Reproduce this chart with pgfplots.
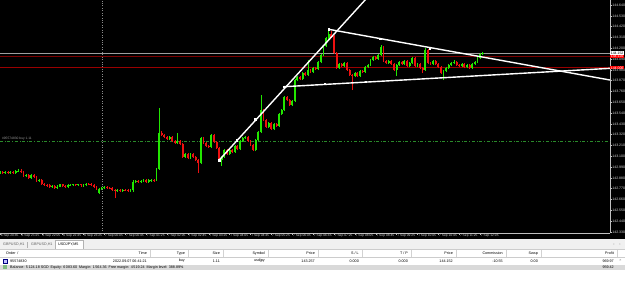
\documentclass[border=0pt]{standalone}
\usepackage{pgfplots}
\pgfplotsset{compat=1.18}
\usepackage{pgfplotstable}
\usepackage{fontspec}
\setmainfont{Liberation Sans}
\definecolor{bull}{HTML}{22E600}
\definecolor{bear}{HTML}{EE1010}
\definecolor{dredA}{HTML}{7A0000}
\definecolor{dredB}{HTML}{9A0000}
\definecolor{ordgreen}{HTML}{2A8A2A}
\newcommand\pf{\fontsize{3.7}{4}\selectfont}
\newcommand\yf{\fontsize{3.5}{4}\selectfont}
\newcommand\xf{\fontsize{3.3}{4}\selectfont}
\pgfplotstableread{
x o h l c
0 142.929 142.954 142.919 142.939
1 142.939 142.949 142.914 142.929
2 142.929 142.949 142.919 142.939
3 142.939 142.949 142.919 142.929
4 142.929 142.954 142.919 142.944
5 142.939 142.949 142.919 142.929
6 142.929 142.960 142.919 142.949
7 142.949 142.965 142.939 142.954
8 142.954 142.965 142.929 142.939
9 142.939 142.949 142.888 142.898
10 142.898 142.919 142.888 142.909
11 142.909 142.919 142.868 142.878
12 142.878 142.919 142.868 142.909
13 142.909 142.919 142.878 142.888
14 142.888 142.898 142.837 142.848
15 142.848 142.868 142.837 142.858
16 142.858 142.868 142.807 142.817
17 142.817 142.827 142.797 142.807
18 142.807 142.817 142.791 142.802
19 142.802 142.812 142.781 142.791
20 142.791 142.807 142.781 142.797
21 142.797 142.807 142.771 142.781
22 142.781 142.802 142.771 142.791
23 142.791 142.822 142.786 142.812
24 142.812 142.822 142.786 142.797
25 142.797 142.807 142.776 142.786
26 142.786 142.812 142.776 142.802
27 142.802 142.817 142.797 142.807
28 142.807 142.822 142.797 142.812
29 142.812 142.822 142.797 142.807
30 142.807 142.822 142.797 142.812
31 142.812 142.822 142.791 142.802
32 142.802 142.817 142.791 142.807
33 142.807 142.832 142.797 142.822
34 142.822 142.832 142.807 142.817
35 142.817 142.827 142.797 142.807
36 142.807 142.817 142.781 142.791
37 142.786 142.797 142.756 142.766
38 142.730 142.776 142.715 142.771
39 142.771 142.786 142.761 142.776
40 142.776 142.797 142.766 142.786
41 142.786 142.797 142.771 142.781
42 142.781 142.791 142.766 142.776
43 142.776 142.786 142.746 142.756
44 142.756 142.766 142.674 142.746
45 142.746 142.766 142.735 142.756
46 142.756 142.766 142.740 142.751
47 142.751 142.771 142.740 142.761
48 142.761 142.771 142.746 142.756
49 142.756 142.766 142.740 142.751
50 142.751 142.766 142.740 142.756
51 142.751 142.853 142.740 142.842
52 142.842 142.858 142.832 142.848
53 142.848 142.858 142.827 142.837
54 142.837 142.858 142.827 142.848
55 142.848 142.863 142.837 142.853
56 142.853 142.863 142.832 142.842
57 142.842 142.863 142.832 142.853
58 142.853 142.868 142.842 142.858
59 142.858 142.868 142.842 142.853
60 142.858 142.980 142.848 142.970
61 142.970 143.591 142.960 143.336
62 143.336 143.357 143.306 143.316
63 143.316 143.326 143.285 143.296
64 143.296 143.306 143.265 143.275
65 143.275 143.306 143.265 143.296
66 143.296 143.306 143.245 143.255
67 143.255 143.265 143.224 143.235
68 143.235 143.336 143.224 143.255
69 143.255 143.265 143.214 143.224
70 143.224 143.235 143.082 143.092
71 143.092 143.133 143.082 143.122
72 143.122 143.133 143.071 143.082
73 143.082 143.133 143.071 143.122
74 143.122 143.133 143.082 143.092
75 143.092 143.102 143.051 143.061
76 143.061 143.071 142.929 143.031
77 143.031 143.296 143.021 143.285
78 143.285 143.296 143.224 143.235
79 143.235 143.245 143.194 143.204
80 143.204 143.214 143.184 143.194
81 143.194 143.326 143.184 143.316
82 143.316 143.326 143.235 143.245
83 143.245 143.255 143.173 143.184
84 143.184 143.194 143.051 143.061
85 143.061 143.102 143.000 143.092
86 143.092 143.173 143.082 143.163
87 143.163 143.173 143.112 143.122
88 143.122 143.173 143.112 143.163
89 143.163 143.173 143.133 143.143
90 143.143 143.214 143.133 143.204
91 143.204 143.214 143.163 143.173
92 143.173 143.265 143.163 143.255
93 143.255 143.296 143.245 143.285
94 143.285 143.306 143.275 143.296
95 143.296 143.306 143.245 143.255
96 143.255 143.265 143.204 143.214
97 143.214 143.224 143.153 143.163
98 143.163 143.275 143.153 143.265
99 143.265 143.357 143.255 143.347
100 143.347 143.723 143.336 143.571
101 143.571 143.581 143.459 143.469
102 143.469 143.479 143.387 143.398
103 143.398 143.449 143.387 143.438
104 143.438 143.449 143.367 143.377
105 143.377 143.438 143.367 143.428
106 143.428 143.438 143.398 143.408
107 143.408 143.540 143.398 143.530
108 143.530 143.581 143.520 143.571
109 143.571 143.713 143.561 143.703
110 143.703 143.713 143.662 143.673
111 143.673 143.683 143.612 143.622
112 143.622 143.673 143.612 143.662
113 143.662 143.886 143.652 143.876
114 143.876 143.917 143.866 143.907
115 143.907 143.917 143.876 143.886
116 143.886 143.958 143.876 143.947
117 143.947 143.958 143.917 143.927
118 143.927 144.080 143.917 143.978
119 143.978 143.988 143.947 143.958
120 143.958 144.009 143.947 143.998
121 143.998 144.009 143.978 143.988
122 143.988 144.070 143.978 144.060
123 144.060 144.141 144.049 144.131
124 144.131 144.233 144.121 144.222
125 144.222 144.314 144.212 144.304
126 144.304 144.391 144.294 144.345
127 144.345 144.375 144.304 144.314
128 144.324 144.335 144.141 144.151
129 144.151 144.161 143.988 143.998
130 143.998 144.049 143.988 144.039
131 144.039 144.049 144.009 144.019
132 144.019 144.060 144.009 144.049
133 144.049 144.060 143.968 143.978
134 143.978 143.988 143.917 143.927
135 143.927 143.937 143.774 143.917
136 143.917 143.958 143.907 143.947
137 143.947 143.958 143.907 143.917
138 143.917 143.978 143.907 143.968
139 143.968 143.978 143.947 143.958
140 143.958 144.019 143.947 144.009
141 144.009 144.039 143.998 144.029
142 144.029 144.090 144.019 144.080
143 144.080 144.121 144.070 144.110
144 144.110 144.121 144.080 144.090
145 144.090 144.141 144.080 144.131
146 144.131 144.233 144.121 144.212
147 144.212 144.222 144.060 144.070
148 144.070 144.080 144.039 144.049
149 144.049 144.080 144.039 144.070
150 144.070 144.080 144.029 144.039
151 144.039 144.049 143.968 143.978
152 143.978 144.039 143.917 144.029
153 144.029 144.070 144.019 144.060
154 144.060 144.070 144.029 144.039
155 144.039 144.080 144.029 144.070
156 144.070 144.080 144.009 144.019
157 144.019 144.060 144.009 144.049
158 144.049 144.110 144.039 144.100
159 144.100 144.110 144.009 144.019
160 144.019 144.049 144.009 144.039
161 144.039 144.049 143.988 143.998
162 143.998 144.009 143.947 143.978
163 143.978 144.202 143.968 144.182
164 144.182 144.192 144.039 144.049
165 144.049 144.060 144.029 144.039
166 144.039 144.080 144.029 144.070
167 144.070 144.080 144.029 144.039
168 144.039 144.049 143.998 144.009
169 144.009 144.019 143.937 143.947
170 143.947 143.978 143.876 143.968
171 143.968 144.009 143.958 143.998
172 143.998 144.039 143.988 144.029
173 144.029 144.060 144.019 144.049
174 144.049 144.080 144.039 144.060
175 144.060 144.070 144.019 144.029
176 144.029 144.039 144.009 144.019
177 144.019 144.049 144.009 144.039
178 144.039 144.049 143.998 144.009
179 144.009 144.039 143.998 144.029
180 144.029 144.039 143.988 143.998
181 143.998 144.049 143.988 144.039
182 144.039 144.070 144.029 144.060
183 144.060 144.110 144.049 144.100
184 144.100 144.151 144.090 144.141
185 144.141 144.161 144.131 144.151
}\candles
% build coordinate lists (wicks and bodies, split by direction) from the table
\newcommand\gW{}\newcommand\gB{}\newcommand\rW{}\newcommand\rB{}
\pgfplotstablegetrowsof{\candles}
\pgfmathtruncatemacro\Nrows{\pgfplotsretval-1}
\foreach \i in {0,...,\Nrows}{%
  \pgfplotstablegetelem{\i}{x}\of\candles\let\cx\pgfplotsretval
  \pgfplotstablegetelem{\i}{o}\of\candles\let\co\pgfplotsretval
  \pgfplotstablegetelem{\i}{h}\of\candles\let\ch\pgfplotsretval
  \pgfplotstablegetelem{\i}{l}\of\candles\let\cl\pgfplotsretval
  \pgfplotstablegetelem{\i}{c}\of\candles\let\cc\pgfplotsretval
  \ifdim\cc pt<\co pt
    \xdef\rW{\rW(\cx,\cl)(\cx,\ch)(\cx,nan)}%
    \xdef\rB{\rB(\cx,\co)(\cx,\cc)(\cx,nan)}%
  \else
    \xdef\gW{\gW(\cx,\cl)(\cx,\ch)(\cx,nan)}%
    \xdef\gB{\gB(\cx,\co)(\cx,\cc)(\cx,nan)}%
  \fi
}
\begin{document}
\begin{tikzpicture}
\begin{scope}[x=1bp,y=1bp]
\fill[black] (0,0) rectangle (625,-239);
\fill[white] (0,-239) rectangle (625,-281);
% tabs band
\fill[gray!12] (0,-239) rectangle (625,-249.5);
\fill[white] (55,-240) rectangle (83,-249.5);
\draw[gray!60, line width=0.3bp] (55,-249.5)--(55,-240)--(83,-240)--(83,-249.5);
\node[font=\pf, text=gray!75!black, anchor=west, inner sep=0] at (3,-244.7) {GBPUSD,H1};
\draw[gray!60, line width=0.3bp] (27.5,-242) -- (27.5,-247.5);
\node[font=\pf, text=gray!75!black, anchor=west, inner sep=0] at (31,-244.7) {GBPUSD,H1};
\node[font=\pf, text=black, anchor=west, inner sep=0] at (58,-244.7) {USDJPY,M5};
\node[font=\pf, text=gray, anchor=center, inner sep=0] at (614,-245) {‹};
\node[font=\pf, text=gray, anchor=center, inner sep=0] at (620,-245) {›};
% header
\draw[gray!40, line width=0.3bp] (0,-249.5) -- (625,-249.5);
\draw[gray!40, line width=0.3bp] (0,-257) -- (625,-257);
\foreach \s in {150,188,223,268,318,362,411,456,506,541,617}
  \draw[gray!35, line width=0.3bp] (\s,-250) -- (\s,-257);
\node[font=\pf, anchor=west, inner sep=0] at (6,-253.5) {Order\enspace/};
\foreach \p/\t in {147/Time,185/Type,220/Size,265/Symbol,315/Price,359/{S / L},408/{T / P},453/Price,503/Commission,538/Swap,614/Profit}
  \node[font=\pf, anchor=east, inner sep=0] at (\p,-253.5) {\t};
% data row
\fill[blue!25] (3,-258.8) rectangle (7,-262.8);
\draw[blue!50!black, line width=0.2bp] (3,-258.8) rectangle (7,-262.8);
\node[font=\pf, anchor=west, inner sep=0] at (10,-260.8) {95574830};
\foreach \p/\t in {147/2022.09.07 06:41:21,185/buy,220/1.11,265/usdjpy,315/143.257,359/0.000,408/0.000,453/144.152,503/-10.55,538/0.00,614/969.97}
  \node[font=\pf, anchor=east, inner sep=0] at (\p,-260.8) {\t};
\node[font=\pf, text=gray, anchor=center, inner sep=0] at (620.5,-260.8) {×};
% balance row
\fill[gray!30] (0,-264.5) rectangle (625,-270);
\fill[ordgreen!60] (3,-265.3) rectangle (7,-269.2);
\node[font=\pf, anchor=west, inner sep=0] at (10,-267.3) {Balance: 5\,124.18 SGD\enspace Equity: 6\,083.60\enspace Margin: 1\,564.36\enspace Free margin: 4\,519.24\enspace Margin level: 388.89\%};
\node[font=\pf, anchor=east, inner sep=0] at (614,-267.3) {959.42};
\end{scope}
\begin{axis}[
  at={(0,0)}, anchor=north west, scale only axis,
  width=610bp, height=233bp,
  xmin=0, xmax=233.8, ymin=142.318, ymax=144.691,
  axis x line*=bottom, axis y line*=right,
  axis line style={white!75!black, line width=0.4bp},
  tick style={white!75!black, line width=0.4bp},
  tick align=outside, major tick length=1.8bp,
  clip mode=individual,
  xtick={0,8,...,184},
  xticklabels={{6 Sep 20:45},{6 Sep 21:25},{6 Sep 22:05},{6 Sep 22:45},{6 Sep 23:25},{7 Sep 00:05},{7 Sep 00:45},{7 Sep 01:25},{7 Sep 02:05},{7 Sep 02:45},{7 Sep 03:25},{7 Sep 04:05},{7 Sep 04:45},{7 Sep 05:25},{7 Sep 06:05},{7 Sep 06:45},{7 Sep 07:25},{7 Sep 08:05},{7 Sep 08:45},{7 Sep 09:25},{7 Sep 10:05},{7 Sep 10:45},{7 Sep 11:25},{7 Sep 12:05}},
  xticklabel style={font=\xf, text=white!85!black, anchor=west, inner sep=0.3bp, xshift=0.3bp, yshift=-1.2bp},
  ytick={142.33,142.44,142.55,142.66,142.77,142.88,142.99,143.10,143.21,143.32,143.43,143.54,143.65,143.76,143.87,143.98,144.09,144.20,144.31,144.42,144.53,144.64},
  yticklabels={142.330,142.440,142.550,142.660,142.770,142.880,142.990,143.100,143.210,143.320,143.430,143.540,143.650,143.760,143.870,143.980,144.090,144.200,144.310,144.420,144.530,144.640},
  yticklabel style={font=\yf, text=white!85!black, inner sep=0.4bp},
]
% period separator
\addplot[white!55!black, dotted, line width=0.45bp] coordinates {(39,142.318) (39,144.691)};
% horizontal lines
\addplot[ordgreen, dash dot, line width=0.45bp] coordinates {(0,143.257) (233.8,143.257)};
\addplot[white!62!black, line width=0.5bp] coordinates {(0,144.152) (233.8,144.152)};
\addplot[dredA, line width=0.7bp] coordinates {(0,144.120) (233.8,144.120)};
\addplot[dredB, line width=0.7bp] coordinates {(0,144.000) (233.8,144.000)};
% candles: wicks then bodies
\edef\doplot{\noexpand\addplot[bull, line width=0.6bp, unbounded coords=jump] coordinates {\gW};}\doplot
\edef\doplot{\noexpand\addplot[bear, line width=0.6bp, unbounded coords=jump] coordinates {\rW};}\doplot
\edef\doplot{\noexpand\addplot[bull, line width=1.9bp, unbounded coords=jump] coordinates {\gB};}\doplot
\edef\doplot{\noexpand\addplot[bear, line width=1.9bp, unbounded coords=jump] coordinates {\rB};}\doplot
% trend lines
\addplot[white, line width=1.4bp] coordinates {(84.03,143.061) (142,144.751)};
\addplot[white, line width=1.4bp] coordinates {(109.0,143.808) (233.8,143.995)};
\addplot[white, line width=1.4bp] coordinates {(125.9,144.393) (233.8,143.876)};
\addplot[only marks, mark=square*, mark size=0.7bp, white] coordinates {(84.03,143.061) (90.8,143.265) (97.8,143.476) (109.0,143.808) (124.4,143.836) (140.2,143.859) (125.9,144.393) (145.7,144.294) (164.8,144.199)};
% annotations
\node[anchor=south west, font=\xf, text=white!60!black, inner sep=0.3bp] at (axis cs:0.6,143.262) {\#95574830 buy 1.11};
\node[anchor=west, fill=white, text=black, font=\yf, inner sep=0.35bp] at (axis cs:233.9,144.152) {144.152};
\node[anchor=west, fill=red, text=white, font=\yf, inner sep=0.35bp] at (axis cs:233.9,144.118) {144.120};
\node[anchor=west, fill=red, text=white, font=\yf, inner sep=0.35bp] at (axis cs:233.9,144.000) {144.000};
\end{axis}
\pgfresetboundingbox
\useasboundingbox (0,0) rectangle (625bp,-281bp);
\end{tikzpicture}
\end{document}
